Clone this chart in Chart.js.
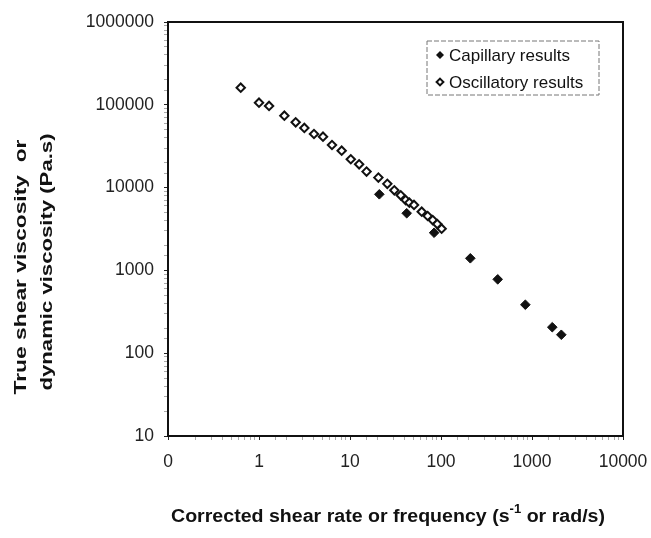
<!DOCTYPE html>
<html>
<head>
<meta charset="utf-8">
<script src="https://cdn.jsdelivr.net/npm/chart.js@4/dist/chart.umd.min.js"></script>
<style>
  html, body { margin: 0; padding: 0; background: #fff; }
  #wrap { width: 651px; height: 538px; }
</style>
</head>
<body>
<div id="wrap"><canvas id="viscChart" width="651" height="538"></canvas></div>
<script>
// capillary rheometer (shear rate s^-1, viscosity Pa.s)
const capillaryRate = [21, 42, 84, 210, 420, 845, 1670, 2100];
const capillaryVisc = [8300, 4900, 2850, 1400, 780, 385, 206, 167];

// oscillatory rheometer (frequency rad/s, dynamic viscosity Pa.s)
const oscFreq = [0.63, 1.0, 1.29, 1.9, 2.53, 3.15, 4.02, 5.05, 6.34, 8.1, 10.2, 12.6, 15.2,
  20.5, 25.7, 30.7, 36.1, 40.9, 44.9, 50.5, 61.4, 71.4, 81.1, 91, 101.6];
const oscVisc = [161000, 106000, 96800, 73800, 61500, 52500, 44400, 41200, 32700, 27900, 22000,
  19100, 15600, 13200, 11100, 9270, 8070, 7080, 6580, 6170, 5120, 4540, 4060, 3630, 3190];

const xTickValues = [0.1, 1, 10, 100, 1000, 10000];
const xTickLabels = ['0', '1', '10', '100', '1000', '10000'];
const yTickValues = [10, 100, 1000, 10000, 100000, 1000000];
const yTickLabels = ['10', '100', '1000', '10000', '100000', '1000000'];

const seriesNames = ['Capillary results', 'Oscillatory results'];
const yTitleLines = ['True shear viscosity  or', 'dynamic viscosity (Pa.s)'];

const FONT = "Arial, 'Liberation Sans', sans-serif";

const toPoints = (xs, ys) => xs.map((x, i) => ({ x: x, y: ys[i] }));

const isDecade = (v) => Math.abs(Math.log10(v) - Math.round(Math.log10(v))) < 1e-6;

function labelFor(values, labels) {
  return function (value) {
    const idx = values.findIndex((v) => Math.abs(v - value) / v < 1e-6);
    return idx >= 0 ? labels[idx] : '';
  };
}

function diamond(ctx, x, y, r, filled) {
  ctx.beginPath();
  ctx.moveTo(x, y - r);
  ctx.lineTo(x + r, y);
  ctx.lineTo(x, y + r);
  ctx.lineTo(x - r, y);
  ctx.closePath();
  if (filled) {
    ctx.fillStyle = '#111';
    ctx.fill();
  } else {
    ctx.fillStyle = '#fff';
    ctx.fill();
    ctx.lineWidth = 2;
    ctx.strokeStyle = '#111';
    ctx.stroke();
  }
}

// the original figure is a bit stretched, so titles are fitted to a length
function fittedText(ctx, text, cx, cy, length) {
  const w = ctx.measureText(text).width;
  ctx.save();
  ctx.translate(cx, cy);
  ctx.scale(length / w, 1);
  ctx.textAlign = 'center';
  ctx.fillText(text, 0, 0);
  ctx.restore();
}

const framePlugin = {
  id: 'frame',
  afterDraw(chart) {
    const { ctx, chartArea: a } = chart;
    ctx.save();

    // box around plot
    ctx.strokeStyle = '#111';
    ctx.lineWidth = 2;
    ctx.strokeRect(a.left, a.top, a.right - a.left, a.bottom - a.top);

    // legend
    const lx = a.right - 196, ly = a.top + 19, lw = 172, lh = 54;
    ctx.fillStyle = '#fff';
    ctx.fillRect(lx, ly, lw, lh);
    ctx.setLineDash([5, 2]);
    ctx.lineWidth = 1;
    ctx.strokeStyle = '#777';
    ctx.strokeRect(lx, ly, lw, lh);
    ctx.setLineDash([]);
    ctx.font = '17px ' + FONT;
    ctx.textBaseline = 'middle';
    ctx.textAlign = 'left';
    seriesNames.forEach((name, i) => {
      const yy = ly + 14 + i * 27;
      diamond(ctx, lx + 13, yy, i === 0 ? 4 : 3.4, i === 0);
      ctx.fillStyle = '#111';
      ctx.fillText(name, lx + 22, yy + 1);
    });

    // x axis title with superscript, fitted to 434px
    const xt1 = 'Corrected shear rate or frequency (s';
    const xtSup = '-1';
    const xt2 = ' or rad/s)';
    const big = 'bold 18px ' + FONT, small = 'bold 12px ' + FONT;
    ctx.font = big;
    const w1 = ctx.measureText(xt1).width;
    const w3 = ctx.measureText(xt2).width;
    ctx.font = small;
    const w2 = ctx.measureText(xtSup).width;
    const total = w1 + w2 + w3;
    const k = 434 / total;
    ctx.save();
    ctx.translate(388, 517);
    ctx.scale(k, 1);
    ctx.translate(-total / 2, 0);
    ctx.fillStyle = '#111';
    ctx.textBaseline = 'middle';
    ctx.font = big;
    ctx.fillText(xt1, 0, 0);
    ctx.font = small;
    ctx.fillText(xtSup, w1, -7);
    ctx.font = big;
    ctx.fillText(xt2, w1 + w2, 0);
    ctx.restore();

    // y axis title, two rotated lines
    ctx.save();
    ctx.rotate(-Math.PI / 2);
    ctx.font = 'bold 17px ' + FONT;
    ctx.fillStyle = '#111';
    ctx.textBaseline = 'middle';
    fittedText(ctx, yTitleLines[0], -267, 21, 255);
    fittedText(ctx, yTitleLines[1], -262, 47, 257);
    ctx.restore();

    ctx.restore();
  },
};

const tickColor = (c) => (c.tick && isDecade(c.tick.value) ? '#222' : '#aaa');

const config = {
  type: 'scatter',
  data: {
    datasets: [
      {
        label: seriesNames[0],
        data: toPoints(capillaryRate, capillaryVisc),
        pointStyle: 'rectRot',
        pointRadius: 4.8,
        backgroundColor: '#111',
        borderColor: '#111',
        borderWidth: 1,
      },
      {
        label: seriesNames[1],
        data: toPoints(oscFreq, oscVisc),
        pointStyle: 'rectRot',
        pointRadius: 4.2,
        backgroundColor: '#fff',
        borderColor: '#111',
        borderWidth: 2,
      },
    ],
  },
  options: {
    responsive: false,
    animation: false,
    devicePixelRatio: 1,
    layout: { padding: { top: 22, right: 28, left: 0, bottom: 0 } },
    plugins: {
      legend: { display: false },
      tooltip: { enabled: false },
    },
    scales: {
      x: {
        type: 'logarithmic',
        min: 0.1,
        max: 10000,
        afterFit: (scale) => {
          scale.height = 102;
          scale.paddingLeft = 0;
          scale.paddingRight = 0;
        },
        grid: {
          drawOnChartArea: false,
          drawTicks: true,
          tickLength: 4,
          tickColor: tickColor,
        },
        border: { display: true, color: '#111', width: 2 },
        ticks: {
          autoSkip: false,
          maxRotation: 0,
          padding: 12,
          color: '#222',
          font: { family: FONT, size: 17.5 },
          callback: labelFor(xTickValues, xTickLabels),
        },
      },
      y: {
        type: 'logarithmic',
        min: 10,
        max: 1000000,
        afterFit: (scale) => {
          scale.width = 168;
          scale.paddingTop = 0;
          scale.paddingBottom = 0;
        },
        grid: {
          drawOnChartArea: false,
          drawTicks: true,
          tickLength: 4,
          tickColor: tickColor,
        },
        border: { display: true, color: '#111', width: 2 },
        ticks: {
          autoSkip: false,
          padding: 10,
          color: '#222',
          font: { family: FONT, size: 17.5 },
          callback: labelFor(yTickValues, yTickLabels),
        },
      },
    },
  },
  plugins: [framePlugin],
};

const viscChart = new Chart(document.getElementById('viscChart'), config);
</script>
</body>
</html>
